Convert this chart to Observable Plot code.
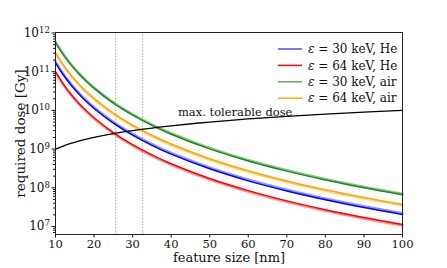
<!DOCTYPE html>
<html>
<head>
<meta charset="utf-8">
<script src="https://cdn.jsdelivr.net/npm/d3@7"></script>
<script src="https://cdn.jsdelivr.net/npm/@observablehq/plot@0.6"></script>
<style>
  html, body { margin: 0; padding: 0; background: #fff; }
  #chart { width: 447px; height: 268px; }
</style>
</head>
<body>
<div id="chart"></div>
<script>
// ---- data ----
const featureSize = [10, 12, 14, 16, 18, 20, 25, 30, 35, 40, 50, 60, 70, 80, 90, 100];
const dose30He  = [1.70e11, 8.32e10, 4.54e10, 2.69e10, 1.69e10, 1.12e10, 4.68e9, 2.29e9, 1.25e9, 7.41e8, 3.09e8, 1.51e8, 8.26e7, 4.90e7, 3.09e7, 2.04e7];
const dose64He  = [1.00e11, 4.86e10, 2.65e10, 1.56e10, 9.82e9, 6.47e9, 2.68e9, 1.30e9, 7.10e8, 4.19e8, 1.73e8, 8.43e7, 4.59e7, 2.71e7, 1.70e7, 1.12e7];
const dose30Air = [5.62e11, 2.75e11, 1.50e11, 8.87e10, 5.58e10, 3.69e10, 1.53e10, 7.50e9, 4.09e9, 2.42e9, 1.01e9, 4.92e8, 2.69e8, 1.59e8, 1.00e8, 6.60e7];
const dose64Air = [3.09e11, 1.51e11, 8.26e10, 4.90e10, 3.08e10, 2.04e10, 8.51e9, 4.17e9, 2.28e9, 1.35e9, 5.62e8, 2.75e8, 1.50e8, 8.91e7, 5.62e7, 3.72e7];
const maxTolerable = [1.0e9, 1.2e9, 1.4e9, 1.6e9, 1.8e9, 2.0e9, 2.5e9, 3.0e9, 3.5e9, 4.0e9, 5.0e9, 6.0e9, 7.0e9, 8.0e9, 9.0e9, 1.0e10];
const crossings = [25.6, 32.6];
const seriesNames = ["ε = 30 keV, He", "ε = 64 keV, He", "ε = 30 keV, air", "ε = 64 keV, air"];
const xTicks = [10, 20, 30, 40, 50, 60, 70, 80, 90, 100];
const yTicks = [1e7, 1e8, 1e9, 1e10, 1e11, 1e12];
const annotation = [{size: 56.6, dose: 8.7e9, text: "max. tolerable dose"}];

// ---- build tables ----
const seriesValues = [dose30He, dose64He, dose30Air, dose64Air];
const colors = ["#0000ff", "#ff0000", "#1a8a1a", "#ffa500"];
const lightColors = ["#9090ff", "#ff8a8a", "#88c488", "#ffd27a"];
const offsets = [-1.3, 1, -1, 1];
const legendColors = ["#5858ff", "#ee1111", "#66b366", "#ffae1a"];

const tables = seriesValues.map(vals => featureSize.map((s, i) => ({size: s, dose: vals[i]})));
const maxTable = featureSize.map((s, i) => ({size: s, dose: maxTolerable[i]}));

const minorTicks = [];
for (let e = 6; e <= 11; e++) for (let m = 2; m <= 9; m++) {
  const v = m * Math.pow(10, e);
  if (v >= 6.2e6 && v <= 1.03e12) minorTicks.push(v);
}

const marks = [
  Plot.ruleX(crossings, {stroke: "#aaa", strokeWidth: 1, strokeDasharray: "1.5,1.5"})
];
tables.forEach((t, k) => {
  marks.push(Plot.line(t, {x: "size", y: "dose", stroke: lightColors[k], strokeWidth: 2.4, strokeDasharray: "1,1.4", dy: offsets[k], curve: "catmull-rom"}));
  marks.push(Plot.line(t, {x: "size", y: "dose", stroke: colors[k], strokeWidth: 1.5, curve: "catmull-rom"}));
});
marks.push(Plot.line(maxTable, {x: "size", y: "dose", stroke: "#000", strokeWidth: 1.3, curve: "catmull-rom"}));
marks.push(Plot.text(annotation, {x: "size", y: "dose", text: "text", fontSize: 11.5, fill: "#111", textAnchor: "middle"}));
marks.push(Plot.axisX({ticks: xTicks, tickSize: 3.5, tickPadding: 2, label: null, fontSize: 11.5}));
marks.push(Plot.axisY({ticks: yTicks, tickFormat: v => "10^" + Math.round(Math.log10(v)), tickSize: 3.5, tickPadding: 2, label: null, fontSize: 12}));
marks.push(Plot.axisY({ticks: minorTicks, tickFormat: () => "", tickSize: 2, label: null}));
marks.push(Plot.frame({stroke: "#222", strokeWidth: 1}));
marks.push(Plot.text(["feature size [nm]"], {frameAnchor: "bottom", dy: 23, lineAnchor: "middle", textAnchor: "middle", fontSize: 13, fill: "#111"}));
marks.push(Plot.text(["required dose [Gy]"], {frameAnchor: "left", dx: -35, rotate: -90, textAnchor: "middle", lineAnchor: "middle", fontSize: 13.5, fill: "#111"}));

const chart = Plot.plot({
  width: 447,
  height: 268,
  marginLeft: 55,
  marginRight: 45,
  marginTop: 32,
  marginBottom: 34,
  style: {fontFamily: "DejaVu Serif", fontSize: "11.5px", background: "#fff", color: "#111", overflow: "visible"},
  x: {domain: [10, 100]},
  y: {type: "log", domain: [6.2e6, 1.03e12]},
  marks
});

const svg = d3.select(chart);

// ---- superscript exponents on y tick labels ----
svg.selectAll("text").each(function() {
  const el = d3.select(this);
  const s = el.text();
  const m = /^10\^(\d+)$/.exec(s);
  if (m) {
    el.text("10");
    el.append("tspan").attr("dy", "-0.45em").attr("font-size", "0.72em").text(m[1]);
  }
});

// ---- legend inside the plot ----
const lg = svg.append("g").attr("font-family", "DejaVu Serif").attr("font-size", 12).attr("fill", "#111").attr("text-anchor", "start");
seriesNames.forEach((name, i) => {
  const y = 49 + i * 16.4;
  lg.append("line").attr("x1", 278).attr("x2", 302).attr("y1", y).attr("y2", y)
    .attr("stroke", legendColors[i]).attr("stroke-width", 1.6);
  const t = lg.append("text").attr("x", 308).attr("y", y).attr("dy", "0.35em").attr("text-anchor", "start");
  t.append("tspan").attr("font-style", "italic").text(name.slice(0, 1));
  t.append("tspan").text(name.slice(1));
});

document.getElementById("chart").appendChild(chart);
</script>
</body>
</html>
